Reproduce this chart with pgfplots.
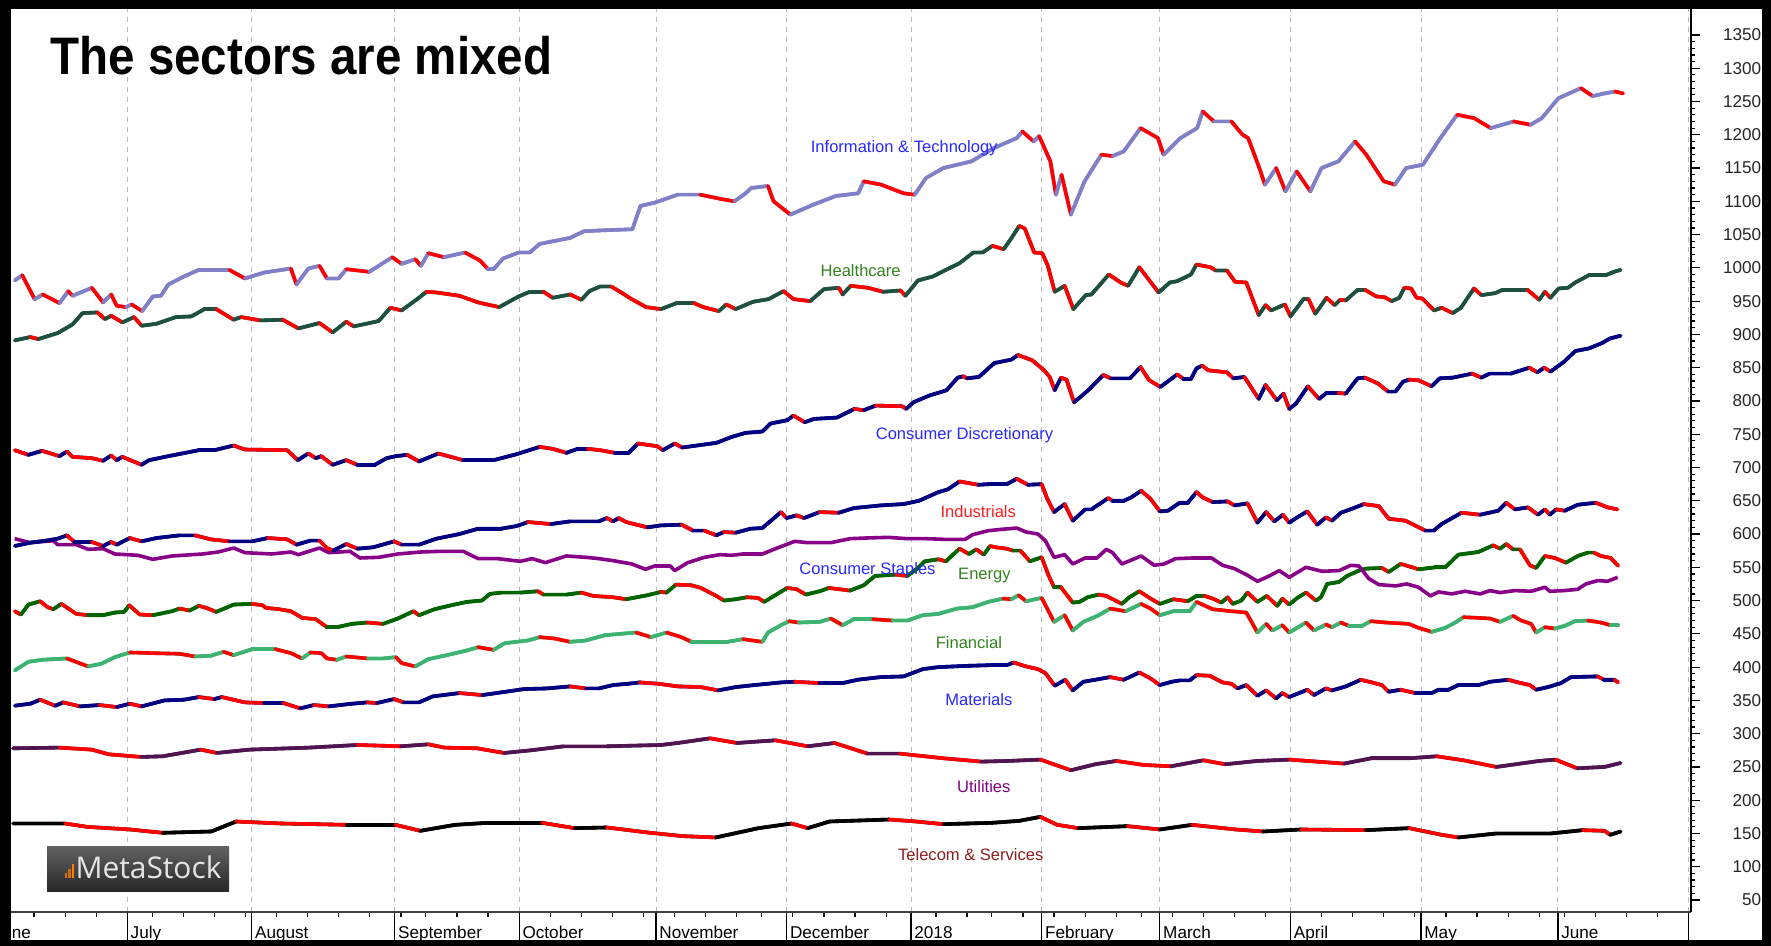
\documentclass[border=0pt]{standalone}
\usepackage{fontspec}
\setmainfont{Liberation Sans}
\newfontfamily\titlefont[FakeStretch=0.9]{Liberation Sans}
\newfontfamily\logofont{Open Sans}
\usepackage{pgfplots}
\usepackage{pgfplotstable}
\pgfplotsset{compat=1.18}

\definecolor{itc}{RGB}{128,128,200}
\definecolor{hcc}{RGB}{30,80,64}
\definecolor{navyc}{RGB}{0,0,128}
\definecolor{csc}{RGB}{136,0,136}
\definecolor{enc}{RGB}{0,100,0}
\definecolor{fic}{RGB}{60,179,113}
\definecolor{utc}{RGB}{80,20,80}
\definecolor{tcc}{RGB}{0,0,0}
\definecolor{upred}{RGB}{255,0,0}
\definecolor{lblue}{RGB}{40,40,255}
\definecolor{lgreen}{RGB}{50,130,30}
\definecolor{lred}{RGB}{255,30,30}
\definecolor{lpurple}{RGB}{128,0,128}
\definecolor{lbrown}{RGB}{139,30,30}

\newcommand\lblfont{\fontsize{8.3}{10}\selectfont}
\newcommand\tickfont{\fontsize{8.6}{10}\selectfont}

% ---------------- data (x = trading day, 0 = 3 Jul 2017) ----------------
\pgfplotstableread[row sep=\\]{d v\\
-18.1 981\\ -16.9 989\\ -14.9 953\\ -13.6 960\\ -10.9 947\\ -9.5 965\\ -8.8 958\\ -5.7 970\\ -3.9 948\\ -2.6 960\\ -1.7 943\\ -0.2 941\\ 0.7 945\\ 2.4 935\\ 4.1 957\\ 5.4 958\\ 6.6 975\\ 9.1 987\\ 11.5 997\\ 16.4 997\\ 18.9 984\\ 22.0 993\\ 26.3 999\\ 27.2 975\\ 29.1 999\\ 30.9 1003\\ 32.1 984\\ 34.0 984\\ 35.2 998\\ 38.9 994\\ 42.6 1016\\ 44.1 1006\\ 46.3 1013\\ 47.2 1003\\ 48.4 1022\\ 50.9 1016\\ 54.3 1023\\ 56.7 1011\\ 58.0 998\\ 58.9 998\\ 60.4 1014\\ 62.9 1023\\ 64.7 1023\\ 66.3 1036\\ 71.2 1045\\ 73.4 1055\\ 75.5 1056\\ 81.2 1058\\ 82.5 1093\\ 84.8 1098\\ 88.5 1110\\ 92.1 1110\\ 95.7 1103\\ 97.6 1100\\ 99.4 1112\\ 100.3 1120\\ 103.0 1123\\ 103.9 1100\\ 106.6 1080\\ 110.3 1095\\ 113.9 1108\\ 117.5 1112\\ 118.4 1130\\ 121.2 1125\\ 124.8 1112\\ 126.6 1110\\ 128.4 1135\\ 131.2 1150\\ 135.7 1160\\ 139.3 1180\\ 143.0 1195\\ 143.9 1205\\ 145.7 1190\\ 146.6 1198\\ 148.4 1160\\ 149.3 1110\\ 150.2 1140\\ 151.7 1080\\ 153.9 1130\\ 156.6 1170\\ 158.4 1168\\ 160.2 1175\\ 162.9 1210\\ 165.7 1195\\ 166.6 1170\\ 169.3 1195\\ 172.0 1210\\ 172.9 1235\\ 174.7 1220\\ 177.5 1220\\ 179.3 1200\\ 180.2 1195\\ 182.0 1150\\ 182.9 1125\\ 184.7 1150\\ 186.2 1115\\ 188.0 1145\\ 190.2 1115\\ 192.0 1150\\ 194.7 1160\\ 197.4 1190\\ 199.2 1170\\ 202.0 1130\\ 203.8 1125\\ 205.6 1150\\ 208.3 1155\\ 211.1 1195\\ 213.8 1230\\ 216.5 1225\\ 219.2 1210\\ 222.9 1220\\ 225.6 1215\\ 227.4 1225\\ 230.1 1255\\ 233.7 1270\\ 235.6 1258\\ 237.4 1262\\ 239.2 1265\\ 240.5 1262\\
}\tIT

\pgfplotstableread[row sep=\\]{d v\\
-18.1 891\\ -15.6 896\\ -14.3 893\\ -11.2 902\\ -8.8 915\\ -7.2 932\\ -4.8 933\\ -3.6 923\\ -2.6 928\\ -0.8 918\\ 1.1 926\\ 2.3 913\\ 4.7 916\\ 7.8 926\\ 10.3 927\\ 12.4 938\\ 14.3 938\\ 17.1 922\\ 18.3 926\\ 21.4 921\\ 25.0 922\\ 27.5 909\\ 30.9 917\\ 33.0 903\\ 35.2 919\\ 36.4 912\\ 40.4 920\\ 42.3 940\\ 44.1 936\\ 46.6 953\\ 48.1 964\\ 49.7 963\\ 53.4 958\\ 56.4 948\\ 59.8 941\\ 62.9 957\\ 64.7 964\\ 66.9 964\\ 68.4 955\\ 71.2 960\\ 73.0 952\\ 74.3 965\\ 76.0 972\\ 77.8 972\\ 79.4 963\\ 80.9 954\\ 83.4 941\\ 85.8 938\\ 88.3 947\\ 91.1 947\\ 92.6 941\\ 95.1 935\\ 96.3 945\\ 97.8 938\\ 100.6 949\\ 103.1 953\\ 105.5 965\\ 107.1 953\\ 109.8 950\\ 112.0 968\\ 114.4 970\\ 115.0 960\\ 116.3 973\\ 119.1 970\\ 121.5 964\\ 124.3 966\\ 125.1 958\\ 127.1 981\\ 129.5 987\\ 131.4 996\\ 133.8 1007\\ 136.0 1023\\ 137.5 1023\\ 139.1 1033\\ 140.9 1028\\ 142.1 1044\\ 143.4 1063\\ 144.3 1059\\ 145.8 1023\\ 147.1 1022\\ 148.0 1003\\ 149.1 964\\ 150.7 973\\ 152.1 938\\ 154.1 959\\ 155.0 960\\ 157.8 990\\ 159.7 978\\ 160.9 973\\ 162.7 1001\\ 165.8 963\\ 167.6 978\\ 168.8 980\\ 171.0 990\\ 171.9 1005\\ 174.1 1001\\ 175.0 996\\ 176.8 996\\ 178.1 979\\ 179.9 978\\ 181.9 929\\ 183.0 944\\ 183.9 936\\ 186.1 945\\ 187.0 927\\ 189.1 953\\ 189.9 953\\ 191.0 931\\ 192.8 955\\ 194.1 944\\ 195.0 952\\ 195.9 951\\ 197.8 967\\ 199.0 967\\ 200.8 957\\ 202.1 956\\ 203.3 950\\ 204.5 955\\ 205.3 970\\ 206.4 969\\ 207.3 955\\ 208.2 954\\ 210.1 936\\ 211.3 940\\ 213.1 932\\ 214.4 940\\ 216.5 969\\ 217.7 959\\ 219.9 962\\ 221.1 967\\ 225.1 967\\ 227.0 952\\ 227.9 964\\ 228.8 955\\ 230.1 969\\ 231.6 970\\ 232.8 978\\ 235.0 989\\ 237.7 989\\ 239.0 994\\ 240.1 997\\
}\tHC

\pgfplotstableread[row sep=\\]{d v\\
-18.1 726\\ -15.9 719\\ -13.7 725\\ -10.9 717\\ -9.7 724\\ -8.8 716\\ -5.7 714\\ -3.9 710\\ -2.6 718\\ -1.7 711\\ -0.8 716\\ 2.3 704\\ 3.5 711\\ 6.6 717\\ 11.5 726\\ 14.0 726\\ 17.1 733\\ 18.9 727\\ 25.7 726\\ 27.4 711\\ 29.1 721\\ 30.3 714\\ 31.2 717\\ 33.0 704\\ 35.2 711\\ 37.0 704\\ 39.8 704\\ 41.7 714\\ 43.2 717\\ 45.0 719\\ 46.9 709\\ 50.0 721\\ 51.2 718\\ 54.0 711\\ 58.9 711\\ 62.6 720\\ 66.3 731\\ 68.4 728\\ 70.6 722\\ 72.4 728\\ 74.0 728\\ 76.0 726\\ 78.4 722\\ 80.6 722\\ 82.1 736\\ 85.2 732\\ 86.1 726\\ 88.0 736\\ 89.2 730\\ 94.7 737\\ 97.2 746\\ 99.4 752\\ 102.1 754\\ 103.4 766\\ 106.1 771\\ 107.1 778\\ 108.9 768\\ 110.4 773\\ 114.1 775\\ 116.9 788\\ 118.4 786\\ 120.3 793\\ 124.6 792\\ 125.2 788\\ 126.4 798\\ 128.9 808\\ 131.7 816\\ 133.5 835\\ 134.4 837\\ 135.0 834\\ 136.9 836\\ 139.4 857\\ 142.1 862\\ 143.2 869\\ 145.5 861\\ 147.4 846\\ 148.3 836\\ 149.1 816\\ 150.1 835\\ 151.0 832\\ 152.2 798\\ 153.5 808\\ 154.7 818\\ 156.9 839\\ 158.1 834\\ 161.2 834\\ 162.9 851\\ 164.3 831\\ 166.1 821\\ 168.8 840\\ 169.8 833\\ 171.0 833\\ 171.9 849\\ 172.8 853\\ 173.8 846\\ 176.8 843\\ 177.8 834\\ 179.6 836\\ 181.9 803\\ 183.0 824\\ 184.8 801\\ 185.9 811\\ 186.8 788\\ 187.9 796\\ 189.8 822\\ 191.6 803\\ 192.8 812\\ 194.7 812\\ 195.9 811\\ 197.8 834\\ 199.0 835\\ 201.1 826\\ 202.7 814\\ 203.9 814\\ 205.1 829\\ 206.1 832\\ 207.6 831\\ 209.7 822\\ 211.0 834\\ 213.1 835\\ 216.2 841\\ 217.7 835\\ 219.0 841\\ 222.4 841\\ 225.4 850\\ 226.7 843\\ 227.8 850\\ 228.8 844\\ 231.0 859\\ 232.8 875\\ 235.0 879\\ 237.1 887\\ 238.4 894\\ 240.1 898\\
}\tCD

\pgfplotstableread[row sep=\\]{d v\\
-18.1 582\\ -15.6 587\\ -13.1 590\\ -11.2 593\\ -9.7 598\\ -8.5 588\\ -5.7 588\\ -3.9 582\\ -2.6 588\\ -1.7 584\\ 0.4 594\\ 2.3 589\\ 4.7 594\\ 8.4 598\\ 10.9 598\\ 13.4 592\\ 16.4 589\\ 20.1 589\\ 22.6 594\\ 25.7 592\\ 27.2 584\\ 29.4 590\\ 30.9 590\\ 32.1 579\\ 33.1 575\\ 35.2 585\\ 37.0 578\\ 39.5 580\\ 42.9 589\\ 44.1 584\\ 46.9 584\\ 49.7 593\\ 53.4 600\\ 56.4 608\\ 60.1 608\\ 62.6 612\\ 64.4 618\\ 68.1 615\\ 71.2 619\\ 75.8 619\\ 77.1 624\\ 78.1 619\\ 79.0 624\\ 80.2 618\\ 83.6 610\\ 85.8 613\\ 89.1 614\\ 91.0 605\\ 92.8 605\\ 94.7 598\\ 95.9 603\\ 97.8 602\\ 100.2 608\\ 102.1 609\\ 105.1 633\\ 106.0 624\\ 107.6 628\\ 108.8 624\\ 111.3 633\\ 114.4 632\\ 116.8 639\\ 121.1 643\\ 124.8 645\\ 127.3 650\\ 130.4 663\\ 131.9 667\\ 133.8 679\\ 135.0 677\\ 136.8 674\\ 138.7 675\\ 141.4 675\\ 143.0 683\\ 144.8 674\\ 147.0 675\\ 147.9 653\\ 149.0 633\\ 150.7 645\\ 152.0 620\\ 154.0 637\\ 155.0 637\\ 157.7 654\\ 158.4 650\\ 160.2 650\\ 161.4 655\\ 163.0 665\\ 164.5 653\\ 166.0 634\\ 167.3 635\\ 169.2 647\\ 170.5 647\\ 171.9 663\\ 172.9 655\\ 174.5 648\\ 176.9 649\\ 178.0 643\\ 180.1 646\\ 181.7 617\\ 183.1 633\\ 184.4 619\\ 185.8 629\\ 186.8 617\\ 187.9 624\\ 189.7 634\\ 191.3 614\\ 192.7 625\\ 193.7 620\\ 195.1 632\\ 196.9 638\\ 198.8 645\\ 201.2 642\\ 202.8 623\\ 205.5 620\\ 208.7 605\\ 210.0 605\\ 211.3 615\\ 214.5 632\\ 217.5 629\\ 220.4 635\\ 221.7 647\\ 223.1 637\\ 225.2 640\\ 226.8 629\\ 227.9 637\\ 228.7 629\\ 229.7 637\\ 231.1 635\\ 233.2 644\\ 236.1 647\\ 238.0 640\\ 239.6 637\\
}\tIND

\pgfplotstableread[row sep=\\]{d v\\
-18.1 593\\ -15.6 587\\ -11.9 590\\ -11.2 584\\ -8.2 584\\ -6.3 577\\ -3.9 578\\ -2.0 570\\ 1.7 568\\ 4.1 562\\ 7.2 567\\ 12.1 570\\ 14.6 573\\ 17.1 579\\ 18.9 572\\ 23.2 570\\ 26.3 573\\ 27.5 569\\ 30.9 579\\ 32.4 572\\ 35.8 574\\ 37.4 564\\ 40.4 565\\ 43.5 570\\ 47.2 573\\ 50.3 574\\ 54.0 574\\ 56.4 563\\ 59.5 563\\ 63.2 559\\ 65.1 563\\ 67.2 557\\ 70.6 567\\ 73.7 565\\ 75.8 563\\ 78.1 560\\ 81.1 555\\ 83.3 547\\ 84.8 552\\ 87.3 552\\ 88.0 545\\ 90.1 557\\ 92.8 565\\ 95.3 569\\ 97.1 568\\ 99.0 570\\ 102.1 570\\ 104.5 579\\ 107.3 589\\ 109.4 587\\ 113.1 587\\ 116.2 593\\ 118.7 594\\ 122.4 595\\ 125.4 593\\ 128.5 593\\ 131.3 592\\ 134.7 592\\ 135.9 599\\ 138.4 605\\ 140.5 607\\ 143.0 609\\ 144.5 603\\ 146.4 600\\ 147.6 590\\ 149.0 565\\ 150.7 569\\ 152.0 555\\ 154.0 564\\ 155.9 564\\ 157.4 577\\ 158.4 572\\ 159.9 555\\ 163.0 567\\ 165.1 553\\ 166.7 555\\ 168.5 563\\ 171.3 564\\ 174.3 564\\ 176.1 553\\ 178.0 548\\ 180.1 538\\ 181.7 529\\ 183.6 537\\ 185.2 545\\ 186.8 535\\ 189.5 550\\ 192.1 544\\ 194.8 545\\ 196.7 553\\ 198.0 552\\ 199.6 533\\ 201.2 524\\ 203.9 522\\ 205.7 525\\ 207.6 520\\ 209.5 507\\ 210.8 513\\ 212.9 510\\ 215.1 514\\ 217.5 510\\ 219.1 515\\ 220.7 512\\ 223.1 515\\ 225.7 514\\ 227.9 520\\ 228.7 514\\ 231.1 515\\ 233.2 517\\ 234.5 525\\ 236.4 530\\ 238.0 529\\ 239.6 535\\
}\tCS

\pgfplotstableread[row sep=\\]{d v\\
-18.1 484\\ -17.1 479\\ -15.9 494\\ -14.0 499\\ -12.8 490\\ -11.9 487\\ -10.6 495\\ -8.2 480\\ -6.3 478\\ -3.9 478\\ -2.0 482\\ -0.5 483\\ 0.3 493\\ 2.0 479\\ 4.1 478\\ 7.2 484\\ 8.4 488\\ 10.0 485\\ 11.5 492\\ 12.7 489\\ 14.3 483\\ 17.1 494\\ 20.1 495\\ 21.7 493\\ 22.3 489\\ 24.4 487\\ 26.3 484\\ 28.1 474\\ 30.3 472\\ 32.1 460\\ 33.7 460\\ 36.1 465\\ 38.6 467\\ 41.1 465\\ 43.5 473\\ 46.0 484\\ 46.9 478\\ 49.4 487\\ 52.1 493\\ 54.6 498\\ 57.0 500\\ 58.3 510\\ 60.1 512\\ 63.2 512\\ 66.0 514\\ 66.9 509\\ 70.6 509\\ 73.0 512\\ 74.9 507\\ 78.1 505\\ 80.2 502\\ 83.6 508\\ 85.8 513\\ 86.7 512\\ 88.2 524\\ 90.7 523\\ 92.2 519\\ 94.7 507\\ 95.9 500\\ 97.8 502\\ 99.6 505\\ 101.4 504\\ 102.4 498\\ 104.5 510\\ 106.1 519\\ 107.6 517\\ 109.1 509\\ 111.3 514\\ 112.8 519\\ 116.2 515\\ 118.4 523\\ 120.2 537\\ 123.6 539\\ 125.4 537\\ 127.0 548\\ 128.2 559\\ 130.4 562\\ 131.6 559\\ 133.8 578\\ 135.3 570\\ 136.5 577\\ 137.7 569\\ 138.7 582\\ 139.6 580\\ 141.4 578\\ 142.4 575\\ 143.6 575\\ 145.1 559\\ 147.0 565\\ 148.1 538\\ 149.0 520\\ 150.1 520\\ 152.0 497\\ 153.1 498\\ 154.4 505\\ 156.2 509\\ 157.4 507\\ 159.9 495\\ 161.1 505\\ 162.7 514\\ 164.5 503\\ 166.0 495\\ 168.2 502\\ 170.5 499\\ 171.9 507\\ 173.2 507\\ 174.5 503\\ 175.9 497\\ 176.9 505\\ 177.7 495\\ 179.1 500\\ 180.1 512\\ 181.7 498\\ 183.2 507\\ 184.9 492\\ 185.7 503\\ 186.8 494\\ 188.1 504\\ 189.5 512\\ 191.1 500\\ 191.9 505\\ 192.9 525\\ 194.8 528\\ 196.1 537\\ 198.0 545\\ 199.1 548\\ 201.7 549\\ 202.8 543\\ 204.7 555\\ 205.5 553\\ 207.6 547\\ 210.3 550\\ 211.9 550\\ 214.0 569\\ 217.2 573\\ 219.6 583\\ 220.7 578\\ 221.7 585\\ 222.8 577\\ 223.9 577\\ 225.5 553\\ 226.5 549\\ 227.9 567\\ 229.5 564\\ 231.3 557\\ 233.2 567\\ 234.8 572\\ 235.8 572\\ 236.9 567\\ 238.5 564\\ 239.7 552\\
}\tEN

\pgfplotstableread[row sep=\\]{d v\\
-18.1 395\\ -15.9 408\\ -13.7 411\\ -9.7 413\\ -6.3 401\\ -4.2 405\\ -2.0 415\\ 0.4 422\\ 4.1 421\\ 8.4 420\\ 10.9 416\\ 13.4 417\\ 15.5 423\\ 17.1 418\\ 20.1 427\\ 23.8 427\\ 26.3 421\\ 28.1 413\\ 29.4 422\\ 31.2 421\\ 32.1 413\\ 33.7 411\\ 35.2 416\\ 38.6 413\\ 41.1 413\\ 43.2 415\\ 44.1 406\\ 46.3 401\\ 48.4 412\\ 50.9 417\\ 54.6 425\\ 56.4 430\\ 58.9 426\\ 60.7 436\\ 64.4 440\\ 66.3 445\\ 68.7 443\\ 71.2 438\\ 73.7 440\\ 76.8 448\\ 79.3 450\\ 81.8 452\\ 84.2 445\\ 86.7 452\\ 89.1 445\\ 90.7 438\\ 93.4 438\\ 96.5 438\\ 99.0 442\\ 102.1 438\\ 103.0 452\\ 105.1 463\\ 106.4 469\\ 107.9 467\\ 111.3 468\\ 113.1 473\\ 115.0 463\\ 116.8 472\\ 119.9 472\\ 123.0 470\\ 125.4 470\\ 127.9 478\\ 130.4 480\\ 133.4 488\\ 135.9 490\\ 138.4 498\\ 140.8 503\\ 142.1 502\\ 143.3 508\\ 144.5 499\\ 147.0 504\\ 149.0 468\\ 150.7 478\\ 152.0 455\\ 153.7 468\\ 156.2 478\\ 158.0 488\\ 160.5 484\\ 163.0 495\\ 164.5 488\\ 166.0 478\\ 168.2 484\\ 170.8 484\\ 171.9 498\\ 174.5 487\\ 177.5 484\\ 179.9 482\\ 181.7 452\\ 183.1 465\\ 184.1 455\\ 185.7 463\\ 186.8 452\\ 189.5 467\\ 190.8 455\\ 192.7 464\\ 193.7 460\\ 195.1 467\\ 196.4 462\\ 198.5 462\\ 199.9 469\\ 202.3 467\\ 206.0 465\\ 207.6 459\\ 209.7 453\\ 211.9 459\\ 213.5 467\\ 214.8 475\\ 217.2 474\\ 219.1 473\\ 220.7 468\\ 222.8 477\\ 224.1 470\\ 225.7 465\\ 226.5 452\\ 227.9 460\\ 229.5 458\\ 231.1 462\\ 232.7 469\\ 234.8 470\\ 236.9 467\\ 238.5 463\\ 239.7 463\\
}\tFI

\pgfplotstableread[row sep=\\]{d v\\
-18.1 342\\ -15.6 345\\ -14.0 351\\ -11.6 342\\ -10.3 347\\ -7.6 341\\ -4.5 343\\ -1.7 340\\ 0.4 345\\ 2.3 341\\ 6.0 350\\ 9.1 351\\ 11.5 355\\ 14.0 352\\ 15.2 355\\ 18.9 347\\ 22.0 346\\ 25.1 346\\ 27.8 338\\ 30.0 343\\ 32.4 341\\ 36.1 345\\ 38.6 347\\ 40.1 346\\ 42.9 352\\ 44.4 347\\ 46.9 347\\ 49.1 356\\ 53.4 361\\ 57.1 358\\ 60.1 362\\ 63.8 367\\ 67.5 368\\ 71.2 371\\ 73.7 368\\ 75.8 368\\ 78.1 373\\ 80.5 375\\ 82.4 377\\ 85.4 375\\ 88.5 371\\ 92.2 370\\ 95.0 365\\ 97.8 370\\ 100.8 373\\ 105.1 377\\ 107.3 378\\ 111.3 376\\ 115.0 376\\ 117.4 381\\ 121.1 385\\ 124.8 386\\ 127.9 397\\ 130.4 400\\ 132.8 401\\ 135.3 402\\ 139.0 403\\ 141.4 403\\ 142.5 407\\ 144.5 401\\ 146.4 397\\ 147.6 391\\ 149.1 372\\ 150.8 381\\ 152.0 365\\ 153.7 378\\ 155.6 381\\ 158.0 385\\ 160.2 381\\ 162.7 392\\ 164.5 383\\ 166.0 373\\ 167.9 378\\ 169.2 380\\ 170.8 380\\ 171.9 388\\ 174.0 387\\ 176.1 377\\ 177.5 375\\ 178.5 368\\ 179.9 373\\ 181.7 357\\ 183.1 365\\ 184.7 353\\ 185.7 361\\ 186.8 355\\ 189.7 366\\ 190.8 358\\ 192.7 368\\ 193.7 365\\ 195.9 371\\ 198.3 381\\ 200.1 377\\ 201.7 373\\ 202.8 363\\ 204.7 366\\ 207.1 361\\ 209.7 361\\ 210.8 366\\ 212.4 366\\ 214.0 373\\ 217.2 373\\ 219.1 378\\ 222.0 381\\ 223.6 377\\ 225.5 373\\ 226.5 366\\ 228.4 370\\ 230.5 376\\ 232.1 385\\ 236.4 386\\ 237.4 381\\ 239.1 381\\ 239.7 377\\
}\tMA

\pgfplotstableread[row sep=\\]{d v\\
-18.4 278\\ -10.9 279\\ -5.7 276\\ -3.0 269\\ 2.2 265\\ 5.7 266\\ 11.8 276\\ 14.4 271\\ 19.6 276\\ 29.2 279\\ 37.0 283\\ 44.0 281\\ 48.4 284\\ 51.0 279\\ 56.2 278\\ 60.6 271\\ 64.9 275\\ 70.2 281\\ 77.1 281\\ 85.8 283\\ 88.5 286\\ 93.7 293\\ 98.0 286\\ 104.2 290\\ 109.4 281\\ 113.7 286\\ 119.0 270\\ 124.2 270\\ 131.2 263\\ 137.3 258\\ 141.6 259\\ 146.8 261\\ 151.7 245\\ 155.6 254\\ 159.0 259\\ 163.4 253\\ 167.8 251\\ 173.0 260\\ 176.5 254\\ 181.7 259\\ 186.9 261\\ 195.6 255\\ 200.0 263\\ 206.1 263\\ 210.5 266\\ 214.8 260\\ 220.1 250\\ 227.0 259\\ 229.6 261\\ 233.1 248\\ 237.5 250\\ 240.1 256\\
}\tUT

\pgfplotstableread[row sep=\\]{d v\\
-18.4 165\\ -10.0 165\\ -6.5 160\\ 0.4 156\\ 5.7 151\\ 13.5 153\\ 17.5 168\\ 24.8 165\\ 35.3 163\\ 43.1 163\\ 47.1 154\\ 52.7 163\\ 57.9 166\\ 66.7 166\\ 71.9 158\\ 77.1 159\\ 84.1 151\\ 89.3 146\\ 94.6 144\\ 101.5 158\\ 106.8 165\\ 109.4 158\\ 112.9 168\\ 122.5 171\\ 126.8 168\\ 131.2 164\\ 139.0 166\\ 143.4 169\\ 146.8 175\\ 149.5 163\\ 152.9 158\\ 160.8 161\\ 166.0 156\\ 171.2 163\\ 178.2 156\\ 182.6 153\\ 188.7 156\\ 199.1 155\\ 206.1 158\\ 211.3 148\\ 214.0 144\\ 220.1 150\\ 228.8 150\\ 234.0 155\\ 237.5 154\\ 238.4 148\\ 240.1 153\\
}\tTC

% column ud = 1 when the next point is lower (down move, drawn red)
\newcommand{\mkud}[1]{%
  \pgfplotstablegetrowsof{#1}%
  \pgfmathtruncatemacro{\lastrow}{\pgfplotsretval-1}%
  \pgfplotstablecreatecol[create col/assign/.code={%
    \ifnum\pgfplotstablerow=\lastrow\relax
      \def\udval{0}%
    \else
      \getthisrow{v}\curv
      \getnextrow{v}\nxtv
      \pgfmathparse{\nxtv<\curv ? 1 : 0}%
      \let\udval\pgfmathresult
    \fi
    \pgfkeyslet{/pgfplots/table/create col/next content}\udval
  }]{ud}#1%
}
\mkud\tIT \mkud\tHC \mkud\tCD \mkud\tIND \mkud\tEN \mkud\tFI \mkud\tMA \mkud\tUT \mkud\tTC

\newcommand\drawser[2]{%
  \addplot[color=#2, line width=1.8bp, line join=round, forget plot] table[x=d,y=v]{#1};
  \addplot[mesh, colormap={cm#2}{color=(#2) color=(upred)}, point meta=\thisrow{ud},
    shader=flat corner, line width=1.8bp, line cap=round, forget plot] table[x=d,y=v]{#1};
}

\begin{document}
\begin{tikzpicture}
\useasboundingbox (0,0) rectangle (885.5bp,473bp);
\fill[white] (0,0) rectangle (885.5bp,473bp);

% ---- x axis, month grid ----
\begin{axis}[
  at={(5.5bp,17bp)}, anchor=south west,
  width=840bp, height=451.5bp, scale only axis,
  xmin=-18.7, xmax=251.4, ymin=32, ymax=1389,
  clip=false,
  axis x line*=bottom, axis y line=none, ytick=\empty,
  axis line style={black!75, line width=1bp},
  xtick={0,20,43,63,85,106,126,147,166,187,208,230,251},
  xticklabels={July,August,September,October,November,December,2018,February,March,April,May,June,{}},
  minor xtick={-15,-10,-5,4,9,14,19,24,29,34,39,44,48,53,58,68,73,78,83,88,93,98,102,107,112,117,122,130,135,139,144,149,154,159,163,168,173,178,183,192,197,202,207,212,217,222,227,231,236,241,246},
  tick align=outside, major tick length=14bp, minor tick length=2.5bp,
  tick style={black, line width=0.6bp},
  xmajorgrids=true,
  major x grid style={gray!55, line width=0.5bp, dash pattern=on 2.5bp off 2.5bp},
  xticklabel style={font=\tickfont, anchor=base west, inner sep=0pt, xshift=1.5bp, yshift=0.7bp},
]
\addplot[draw=none, forget plot] coordinates {(0,500)};
\node[font=\tickfont, anchor=base west, inner sep=0pt] at (axis cs:-22,32) [xshift=1.5bp, yshift=-13.3bp] {June};
\end{axis}

% ---- data and y axis ----
\begin{axis}[
  at={(5.5bp,17bp)}, anchor=south west,
  width=840bp, height=451.5bp, scale only axis,
  xmin=-18.7, xmax=251.4, ymin=32, ymax=1389,
  axis y line*=right, axis x line=none, xtick=\empty,
  axis line style={black, line width=1bp},
  ytick={50,100,...,1350}, minor y tick num=4,
  tick align=outside, major tick length=4.5bp, minor tick length=2.2bp,
  tick style={black, line width=0.6bp},
  yticklabel style={font=\tickfont, anchor=east, inner sep=0pt, xshift=30.8bp, text=black!85},
  /pgf/number format/.cd, 1000 sep={}, assume math mode=true, /pgfplots/.cd,
  point meta min=0, point meta max=1,
]
\drawser{\tTC}{tcc}
\drawser{\tUT}{utc}
\drawser{\tMA}{navyc}
\drawser{\tFI}{fic}
\drawser{\tEN}{enc}
\addplot[color=csc, line width=1.8bp, line join=round, forget plot] table[x=d,y=v]{\tCS};
\drawser{\tIND}{navyc}
\drawser{\tCD}{navyc}
\drawser{\tHC}{hcc}
\drawser{\tIT}{itc}

\node[text=lblue, font=\lblfont] at (axis cs:124.9,1180) {Information \& Technology};
\node[text=lgreen, font=\lblfont] at (axis cs:117.9,996) {Healthcare};
\node[text=lblue, font=\lblfont] at (axis cs:134.6,748) {Consumer Discretionary};
\node[text=lred, font=\lblfont] at (axis cs:136.8,633) {Industrials};
\node[text=lblue, font=\lblfont] at (axis cs:119.0,546) {Consumer Staples};
\node[text=lgreen, font=\lblfont] at (axis cs:137.8,537) {Energy};
\node[text=lgreen, font=\lblfont] at (axis cs:135.3,437) {Financial};
\node[text=lblue, font=\lblfont] at (axis cs:136.9,351) {Materials};
\node[text=lpurple, font=\lblfont] at (axis cs:137.7,220) {Utilities};
\node[text=lbrown, font=\lblfont] at (axis cs:135.6,118) {Telecom \& Services};
\end{axis}

% ---- title ----
\node[anchor=base west, inner sep=0pt, font={\titlefont\fontsize{26.5}{30}\selectfont\bfseries}] at (25bp,435.5bp) {The sectors are mixed};

% ---- MetaStock badge ----
\shade[top color=black!62, bottom color=black!85] (23.5bp,27bp) rectangle (114.5bp,49.5bp);
\fill[orange!85!black] (32.5bp,34bp) rectangle (33.6bp,36.5bp);
\fill[orange!85!black] (34.2bp,34bp) rectangle (35.3bp,38.5bp);
\fill[orange] (35.9bp,34bp) rectangle (37.0bp,41bp);
\node[anchor=base west, inner sep=0pt, text=black!10, font={\logofont\fontsize{15}{17}\selectfont}] at (37.6bp,34bp) {MetaStock};

% ---- frame ----
\fill[black] (0,0) rectangle (5.5bp,473bp);
\fill[black] (0,468.5bp) rectangle (885.5bp,473bp);
\fill[black] (881bp,0) rectangle (885.5bp,473bp);
\fill[black] (0,0) rectangle (885.5bp,3bp);
\end{tikzpicture}
\end{document}
